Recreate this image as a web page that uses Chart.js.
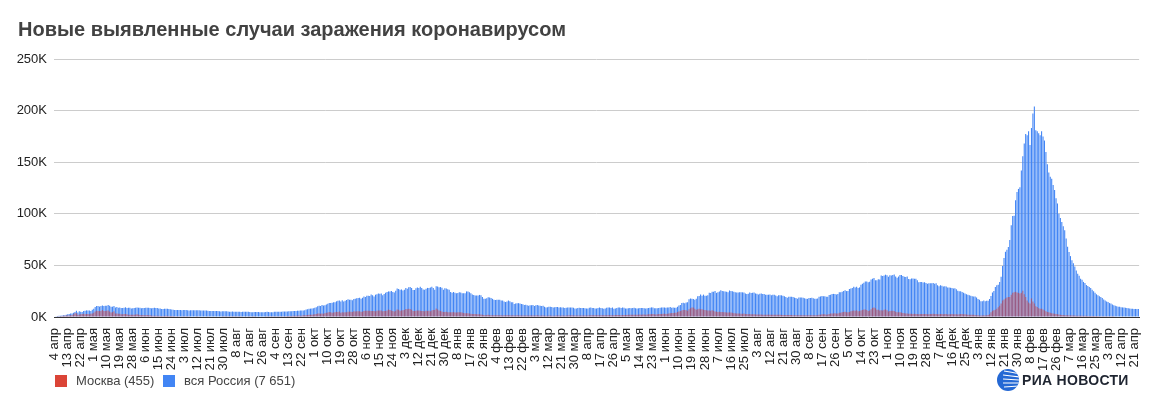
<!DOCTYPE html>
<html>
<head>
<meta charset="utf-8">
<script src="https://cdn.jsdelivr.net/npm/chart.js@4"></script>
<style>
  body { margin: 0; background: #fff; font-family: "Liberation Sans", Arial, sans-serif; }
  #wrap { position: relative; width: 1157px; height: 402px; overflow: hidden; }
  #chart { position: absolute; left: 0; top: 0; }
  #title { position: absolute; left: 18px; top: 18px; font-size: 20px; font-weight: bold; color: #424242; }
  .legend { position: absolute; top: 373px; font-size: 13px; color: #444; }
  .legend span.box { display: inline-block; width: 12px; height: 12px; vertical-align: -2px; margin-right: 9px; }
  #logo { position: absolute; left: 996px; top: 368px; height: 24px; }
  #logo .txt { position: absolute; left: 26px; top: 4px; font-size: 14px; font-weight: bold; color: #1e2430; white-space: nowrap; letter-spacing: 0.3px; }
</style>
</head>
<body>
<div id="wrap">
  <canvas id="chart" width="1157" height="402"></canvas>
  <div id="title">Новые выявленные случаи заражения коронавирусом</div>
  <div class="legend" style="left:55px"><span class="box" style="background:#db4437"></span>Москва (455)</div>
  <div class="legend" style="left:163px"><span class="box" style="background:#4285f4"></span>вся Россия (7 651)</div>
  <div id="logo">
    <svg width="24" height="24" viewBox="0 0 24 24">
      <defs><clipPath id="g"><circle cx="12" cy="12" r="11"/></clipPath></defs>
      <circle cx="12" cy="12" r="11" fill="#2468d4"/>
      <g clip-path="url(#g)" stroke="#fff" stroke-width="1.1" fill="none">
        <path d="M8 3 Q16 4 24 6"/><path d="M7 7 Q16 8 24 9"/><path d="M7 11 Q16 11.5 24 12"/>
        <path d="M7 15 Q16 15 24 15"/><path d="M8 19 Q16 18.5 24 18"/>
      </g>
    </svg>
    <div class="txt">РИА НОВОСТИ</div>
  </div>
</div>
<script>
// every 9th day from 4 Apr 2020
const tickLabels = ['4 апр','13 апр','22 апр','1 мая','10 мая','19 мая','28 мая','6 июн','15 июн','24 июн',
  '3 июл','12 июл','21 июл','30 июл','8 авг','17 авг','26 авг','4 сен','13 сен','22 сен',
  '1 окт','10 окт','19 окт','28 окт','6 ноя','15 ноя','24 ноя','3 дек','12 дек','21 дек',
  '30 дек','8 янв','17 янв','26 янв','4 фев','13 фев','22 фев','3 мар','12 мар','21 мар',
  '30 мар','8 апр','17 апр','26 апр','5 мая','14 мая','23 мая','1 июн','10 июн','19 июн',
  '28 июн','7 июл','16 июл','25 июл','3 авг','12 авг','21 авг','30 авг','8 сен','17 сен',
  '26 сен','5 окт','14 окт','23 окт','1 ноя','10 ноя','19 ноя','28 ноя','7 дек','16 дек',
  '25 дек','3 янв','12 янв','21 янв','30 янв','8 фев','17 фев','26 фев','7 мар','16 мар',
  '25 мар','3 апр','12 апр','21 апр'];

// daily new cases, thousands, 4 Apr 2020 .. 24 Apr 2022
const russia = [
  // apr 2020
  0.6,0.7,1.0,1.2,1.2,1.5,1.8,1.7,2.2,2.6,2.8,3.4,3.4,4.1,4.8,6.1,4.3,5.6,5.2,4.8,5.8,6.0,6.4,6.2,6.4,5.8,7.1,
  // may
  7.9,9.6,10.6,10.6,10.1,10.6,11.2,10.7,10.8,11.0,11.7,10.9,10.0,10.0,10.6,9.2,9.7,8.9,9.3,8.8,8.8,8.9,9.4,8.6,8.9,8.9,8.3,8.4,8.6,9.0,9.3,
  // jun
  9.0,8.9,8.5,8.8,8.7,8.9,9.0,9.0,8.6,8.4,8.8,9.0,8.7,8.8,8.2,8.2,7.8,7.8,8.0,8.0,7.9,7.7,7.6,7.2,7.1,6.8,6.9,6.8,6.7,6.7,
  // jul
  6.6,6.8,6.7,6.7,6.6,6.4,6.6,6.5,6.6,6.6,6.6,6.6,6.5,6.2,6.4,6.4,6.4,6.2,6.1,5.9,5.8,5.9,5.8,5.8,5.9,5.8,5.6,5.4,5.5,5.5,5.5,
  // aug
  5.5,5.4,5.2,5.2,5.3,5.2,5.2,5.2,5.2,5.1,4.9,5.1,5.1,5.1,5.1,5.0,4.8,4.7,4.7,4.8,4.8,4.9,4.9,4.7,4.7,4.7,4.7,4.8,5.0,4.9,4.7,
  // sep
  4.7,4.7,5.0,5.1,5.2,5.2,5.2,5.1,5.4,5.3,5.4,5.4,5.6,5.5,5.5,5.7,5.8,5.9,6.1,6.1,6.2,6.2,6.4,6.6,7.2,7.5,7.9,8.1,8.2,8.5,
  // oct
  8.9,9.4,10.5,10.9,10.6,11.6,11.1,11.5,12.1,12.8,13.6,13.6,13.9,14.2,14.3,15.2,15.7,16.0,15.1,16.3,14.9,15.7,16.5,17.3,16.7,16.6,16.2,17.5,17.7,18.1,18.3,
  // nov
  18.7,17.7,18.6,19.8,19.4,20.6,20.5,20.4,21.8,21.0,19.9,21.6,22.0,22.7,22.6,22.8,21.0,22.4,23.6,24.3,24.8,24.6,25.2,24.3,23.7,25.5,27.5,27.1,26.3,26.7,
  // dec
  25.7,26.4,28.1,27.4,28.8,29.0,28.1,26.1,26.2,27.9,28.6,28.1,29.4,28.1,26.7,26.5,27.3,28.2,28.2,28.6,29.3,28.2,26.4,29.9,29.5,28.9,29.0,28.3,26.5,27.8,27.7,
  // jan 2021
  27.0,26.3,24.2,23.4,24.2,23.5,22.9,23.3,24.1,23.7,22.9,22.9,22.9,24.8,24.7,24.1,22.9,21.7,21.2,20.9,20.8,20.9,21.4,21.1,19.3,17.7,17.6,18.2,19.1,19.0,18.4,
  // feb
  17.6,16.6,16.5,16.7,16.7,16.6,16.0,15.9,14.9,14.5,15.0,16.1,15.2,14.2,14.2,12.7,13.2,13.4,13.4,13.0,12.6,12.4,11.7,11.8,11.5,11.0,11.5,11.4,
  // mar
  11.6,10.6,11.4,11.6,11.2,10.9,10.6,11.0,9.9,9.1,9.4,10.0,9.9,9.7,9.3,9.4,9.8,9.6,9.3,9.4,9.3,9.2,8.8,9.0,9.1,9.1,9.1,9.1,9.0,8.3,8.3,
  // apr
  8.7,9.0,8.7,8.8,8.6,8.4,8.3,8.2,9.0,9.3,8.6,8.7,8.2,8.3,8.8,9.2,8.8,8.4,8.1,8.3,9.0,9.1,9.3,8.8,9.3,8.1,8.3,8.8,9.1,9.2,
  // may
  8.7,9.3,8.9,8.2,8.2,8.5,8.8,8.4,8.8,8.9,8.4,8.2,8.4,8.6,8.6,8.6,8.5,8.2,8.4,8.8,9.0,9.3,9.3,8.4,8.4,8.4,8.8,8.9,9.1,9.3,9.2,
  // jun
  9.0,9.1,9.3,9.7,8.9,9.3,8.9,9.0,9.9,11.1,11.7,13.5,13.7,13.4,14.1,14.2,17.3,17.9,17.6,17.4,16.7,17.6,20.2,20.4,21.7,20.5,21.7,20.5,20.6,21.0,
  // jul
  23.5,23.2,24.4,24.4,25.1,23.4,24.0,24.8,25.8,25.1,25.0,24.7,24.4,24.0,25.7,25.3,25.0,24.4,23.9,23.7,23.8,24.1,24.1,23.9,23.8,22.8,22.4,22.6,23.8,23.3,23.6,
  // aug
  23.8,22.8,22.6,21.9,22.6,22.8,22.3,22.3,21.6,21.6,21.6,21.9,21.0,21.6,21.6,20.8,20.2,21.0,21.1,21.0,20.6,20.0,19.5,18.7,19.6,19.6,19.7,19.3,18.8,18.3,17.8,
  // sep
  19.0,18.8,18.9,18.6,18.2,17.6,17.6,18.3,18.4,18.6,18.2,17.6,17.8,17.9,19.6,19.9,20.3,20.2,20.2,19.7,19.7,21.4,21.6,22.3,22.4,22.2,21.7,22.4,23.9,23.9,
  // oct
  24.5,25.1,25.8,25.1,25.1,27.2,27.6,28.2,29.4,28.6,29.4,28.2,28.7,31.3,32.2,33.2,34.3,34.3,33.7,34.1,36.3,37.1,37.7,35.7,35.7,36.6,36.4,40.1,39.8,40.3,41.0,
  // nov
  40.4,39.0,40.4,40.2,40.7,41.3,39.2,38.1,39.2,40.8,40.8,39.8,39.0,38.8,39.3,36.8,36.6,37.4,37.2,37.1,37.0,35.7,33.6,33.9,33.8,33.5,33.7,32.9,32.1,32.6,
  // dec
  32.6,32.8,32.9,32.1,32.6,30.8,29.9,30.8,30.2,29.6,29.9,29.6,28.5,28.5,28.4,28.0,27.7,27.8,26.8,25.5,25.0,25.0,24.2,23.5,22.7,22.0,21.5,21.0,20.6,20.0,19.8,
  // jan 2022
  19.8,19.0,17.5,16.6,15.3,15.3,16.1,15.3,15.8,15.8,17.5,20.3,23.8,25.3,29.1,30.7,31.3,33.9,38.9,49.5,57.2,63.2,65.1,67.8,74.7,88.8,97.8,98.0,113.1,121.2,124.1,
  // feb
  125.8,141.9,155.8,168.2,177.3,176.1,180.1,166.6,183.1,197.1,203.9,181.0,180.0,178.0,176.0,180.0,175.0,171.0,160.0,148.0,140.0,136.0,134.0,128.0,123.0,115.0,110.0,100.0,
  // mar
  96.0,92.0,88.0,84.0,76.0,68.0,63.0,59.0,55.0,52.0,49.0,45.0,42.0,40.0,37.0,36.0,34.0,33.0,31.0,30.0,29.0,28.0,26.5,25.0,23.5,22.0,21.0,20.0,19.5,18.5,17.0,
  // apr
  16.0,15.0,14.5,13.5,13.0,12.0,11.5,11.0,10.5,10.0,10.0,9.5,9.3,9.2,9.0,8.8,8.5,8.3,8.1,7.9,7.7,7.8,7.7,7.651
];

const moscow = [
  // apr 2020
  0.4,0.5,0.7,0.7,0.8,1.0,1.1,1.1,1.4,1.5,1.4,1.8,1.7,2.6,3.6,3.6,2.2,2.5,2.6,2.8,3.1,2.7,2.9,3.0,2.6,3.2,3.5,
  // may
  4.1,5.4,6.0,5.9,5.7,5.9,6.7,5.8,5.7,6.0,6.2,5.4,4.4,4.7,5.5,3.5,3.5,3.2,3.2,2.7,2.6,2.8,3.0,2.6,2.1,2.3,2.1,2.1,2.2,2.5,2.6,
  // jun
  2.3,2.0,1.8,2.0,1.8,1.6,2.0,1.6,1.6,1.3,1.2,1.2,1.1,1.1,1.1,1.0,1.0,1.0,1.1,1.1,1.1,1.0,1.0,0.9,0.9,0.8,0.7,0.8,0.7,0.6,
  // jul
  0.7,0.7,0.7,0.7,0.7,0.7,0.6,0.6,0.6,0.6,0.7,0.7,0.6,0.6,0.6,0.6,0.6,0.6,0.7,0.6,0.6,0.6,0.6,0.6,0.6,0.6,0.6,0.6,0.7,0.7,0.7,
  // aug
  0.7,0.7,0.7,0.7,0.7,0.7,0.7,0.7,0.7,0.7,0.7,0.6,0.6,0.7,0.6,0.7,0.7,0.6,0.7,0.7,0.7,0.6,0.6,0.6,0.6,0.6,0.6,0.7,0.7,0.7,0.7,
  // sep
  0.7,0.7,0.7,0.7,0.7,0.7,0.7,0.7,0.8,0.8,0.8,0.9,1.0,1.0,1.0,1.1,1.1,1.2,1.3,1.4,1.3,1.3,1.6,1.6,1.8,2.0,2.2,2.2,2.3,2.4,
  // oct
  2.7,3.0,3.3,3.5,3.2,3.5,3.2,3.6,4.1,4.4,4.9,4.6,4.2,4.3,4.6,5.0,4.9,5.4,4.2,4.6,4.3,4.5,4.6,5.2,5.2,5.2,4.9,5.5,5.4,5.6,5.6,
  // nov
  5.6,5.0,5.2,5.9,6.0,6.0,6.0,6.0,5.7,5.7,5.8,5.5,6.0,6.4,6.2,6.3,5.6,5.8,5.9,6.4,7.2,6.9,6.4,5.9,5.4,6.1,7.2,7.0,6.1,6.4,
  // dec
  6.5,6.7,7.8,7.5,8.0,7.7,7.0,5.9,5.8,6.0,6.4,6.3,6.0,5.9,5.7,5.6,6.0,5.9,6.0,5.5,6.4,6.9,6.7,8.2,7.3,6.2,5.9,5.3,4.9,4.9,5.1,
  // jan 2021
  4.6,4.6,4.7,4.6,4.7,4.4,4.3,4.6,4.7,4.6,4.3,3.8,3.6,3.7,3.7,3.5,3.2,2.9,2.9,2.8,2.7,2.6,2.7,2.5,2.2,1.9,1.8,1.9,2.1,1.9,1.8,
  // feb
  1.7,1.7,1.8,1.7,1.8,1.7,1.6,1.5,1.7,1.6,1.6,1.6,1.7,1.5,1.6,1.4,1.5,1.6,1.6,1.5,1.5,1.5,1.4,1.4,1.4,1.4,1.5,1.5,
  // mar
  1.5,1.4,1.5,1.6,1.5,1.3,1.5,1.5,1.3,1.2,1.3,1.5,1.4,1.2,1.3,1.3,1.5,1.5,1.4,1.3,1.5,1.5,1.3,1.4,1.4,1.6,1.4,1.6,1.5,1.4,1.5,
  // apr
  1.4,1.5,1.4,1.5,1.4,1.4,1.4,1.5,1.7,1.7,1.6,1.7,1.6,1.6,1.8,1.8,1.8,1.7,1.7,1.7,1.8,1.8,1.9,1.8,1.8,1.8,1.9,2.0,2.0,2.0,
  // may
  1.8,2.0,2.0,2.0,2.0,2.1,2.2,2.1,2.2,2.3,2.1,2.1,2.3,2.4,2.3,2.5,2.5,2.3,2.5,2.7,2.7,2.8,2.9,2.6,2.5,2.6,2.9,3.0,3.0,3.1,3.2,
  // jun
  3.0,3.1,3.4,3.7,3.8,3.9,4.0,4.1,4.8,5.4,5.8,6.2,6.7,6.7,6.6,6.0,7.5,8.4,9.1,9.1,8.0,7.0,7.5,7.9,7.6,7.4,7.0,6.8,6.5,6.4,
  // jul
  6.2,6.0,6.6,6.1,5.4,5.2,4.8,5.1,4.9,4.8,4.7,4.6,4.3,4.3,4.5,4.3,4.0,3.7,3.6,3.4,3.3,3.4,3.2,3.1,3.3,2.9,2.8,2.7,2.8,2.7,2.6,
  // aug
  2.6,2.5,2.5,2.5,2.4,2.4,2.3,2.3,2.3,2.3,2.3,2.3,2.3,2.2,2.3,2.1,2.1,2.1,2.1,2.0,2.0,1.9,1.9,1.9,1.9,1.9,1.9,1.8,1.8,1.7,1.7,
  // sep
  1.8,1.8,1.8,1.8,1.7,1.6,1.6,1.7,1.8,1.7,1.7,1.7,1.6,1.7,2.2,2.2,2.6,2.6,2.7,2.3,2.4,2.9,3.3,3.4,3.5,3.6,3.3,3.4,4.2,4.1,
  // oct
  4.7,4.8,5.0,4.6,4.6,4.9,5.5,6.0,6.3,6.1,6.5,5.6,5.7,6.3,6.7,7.3,7.3,6.9,5.8,6.2,7.5,8.9,9.1,8.5,7.1,7.0,6.3,6.6,6.3,7.1,7.3,
  // nov
  6.6,5.4,5.8,6.1,6.1,5.8,5.1,4.6,4.6,4.5,4.4,3.9,3.7,3.5,3.5,3.1,3.1,3.2,3.0,3.1,3.0,2.9,2.7,2.8,2.9,2.9,2.9,2.8,2.6,2.7,
  // dec
  2.9,2.9,3.1,3.0,2.9,2.7,2.6,2.8,2.9,2.7,2.8,2.8,2.5,2.6,2.7,2.8,2.6,2.6,2.6,2.5,2.7,2.8,2.8,2.7,2.6,2.5,2.2,2.3,2.3,2.1,2.2,
  // jan 2022
  2.0,1.8,1.6,1.4,1.5,1.5,1.6,1.5,1.6,2.0,2.6,4.5,6.0,6.5,7.0,8.0,9.5,11.0,13.0,16.0,17.0,18.0,19.0,19.5,19.5,21.5,23.4,24.0,24.4,23.8,23.4,
  // feb
  22.8,23.5,25.4,22.0,19.5,16.0,14.0,13.0,18.0,15.0,13.0,10.5,9.8,8.5,8.0,8.0,7.2,6.5,5.6,4.9,4.5,4.0,3.7,3.4,3.2,3.0,2.7,2.5,
  // mar
  2.2,2.0,1.9,1.8,1.7,1.6,1.5,1.5,1.5,1.4,1.4,1.3,1.3,1.2,1.2,1.2,1.1,1.1,1.1,1.0,1.0,1.0,1.0,0.9,0.9,0.9,0.9,0.8,0.8,0.8,0.8,
  // apr
  0.8,0.7,0.7,0.7,0.7,0.7,0.7,0.6,0.6,0.6,0.6,0.6,0.6,0.6,0.6,0.5,0.5,0.5,0.5,0.5,0.5,0.5,0.5,0.455
];

const dayLabels = russia.map((v, i) => (i % 9 === 0 ? tickLabels[i / 9] : ''));

const font = { family: 'Liberation Sans, Arial, sans-serif', size: 13 };

new Chart(document.getElementById('chart'), {
  type: 'bar',
  data: {
    labels: dayLabels,
    datasets: [
      { label: 'Москва (455)', data: moscow, backgroundColor: 'rgba(214,62,52,0.6)',
        barPercentage: 0.75, categoryPercentage: 1 },
      { label: 'вся Россия (7 651)', data: russia, backgroundColor: '#4285f4',
        barPercentage: 0.75, categoryPercentage: 1 }
    ]
  },
  options: {
    responsive: false,
    animation: false,
    layout: { padding: { top: 59, right: 13, bottom: 0, left: 0 } },
    plugins: { legend: { display: false }, tooltip: { enabled: false } },
    scales: {
      x: {
        stacked: true,
        grid: { display: false },
        border: { display: true, color: '#333', width: 1 },
        ticks: { autoSkip: false, minRotation: 90, maxRotation: 90, padding: 3, color: '#222', font: font },
        afterFit: s => { s.height = 85; }
      },
      y: {
        min: 0, max: 250,
        grid: { color: '#cccccc', drawTicks: false },
        border: { display: false },
        ticks: { stepSize: 50, padding: 7, color: '#222', font: font, callback: v => v + 'K' },
        afterFit: s => { s.width = 54; }
      }
    }
  }
});
</script>
</body>
</html>
